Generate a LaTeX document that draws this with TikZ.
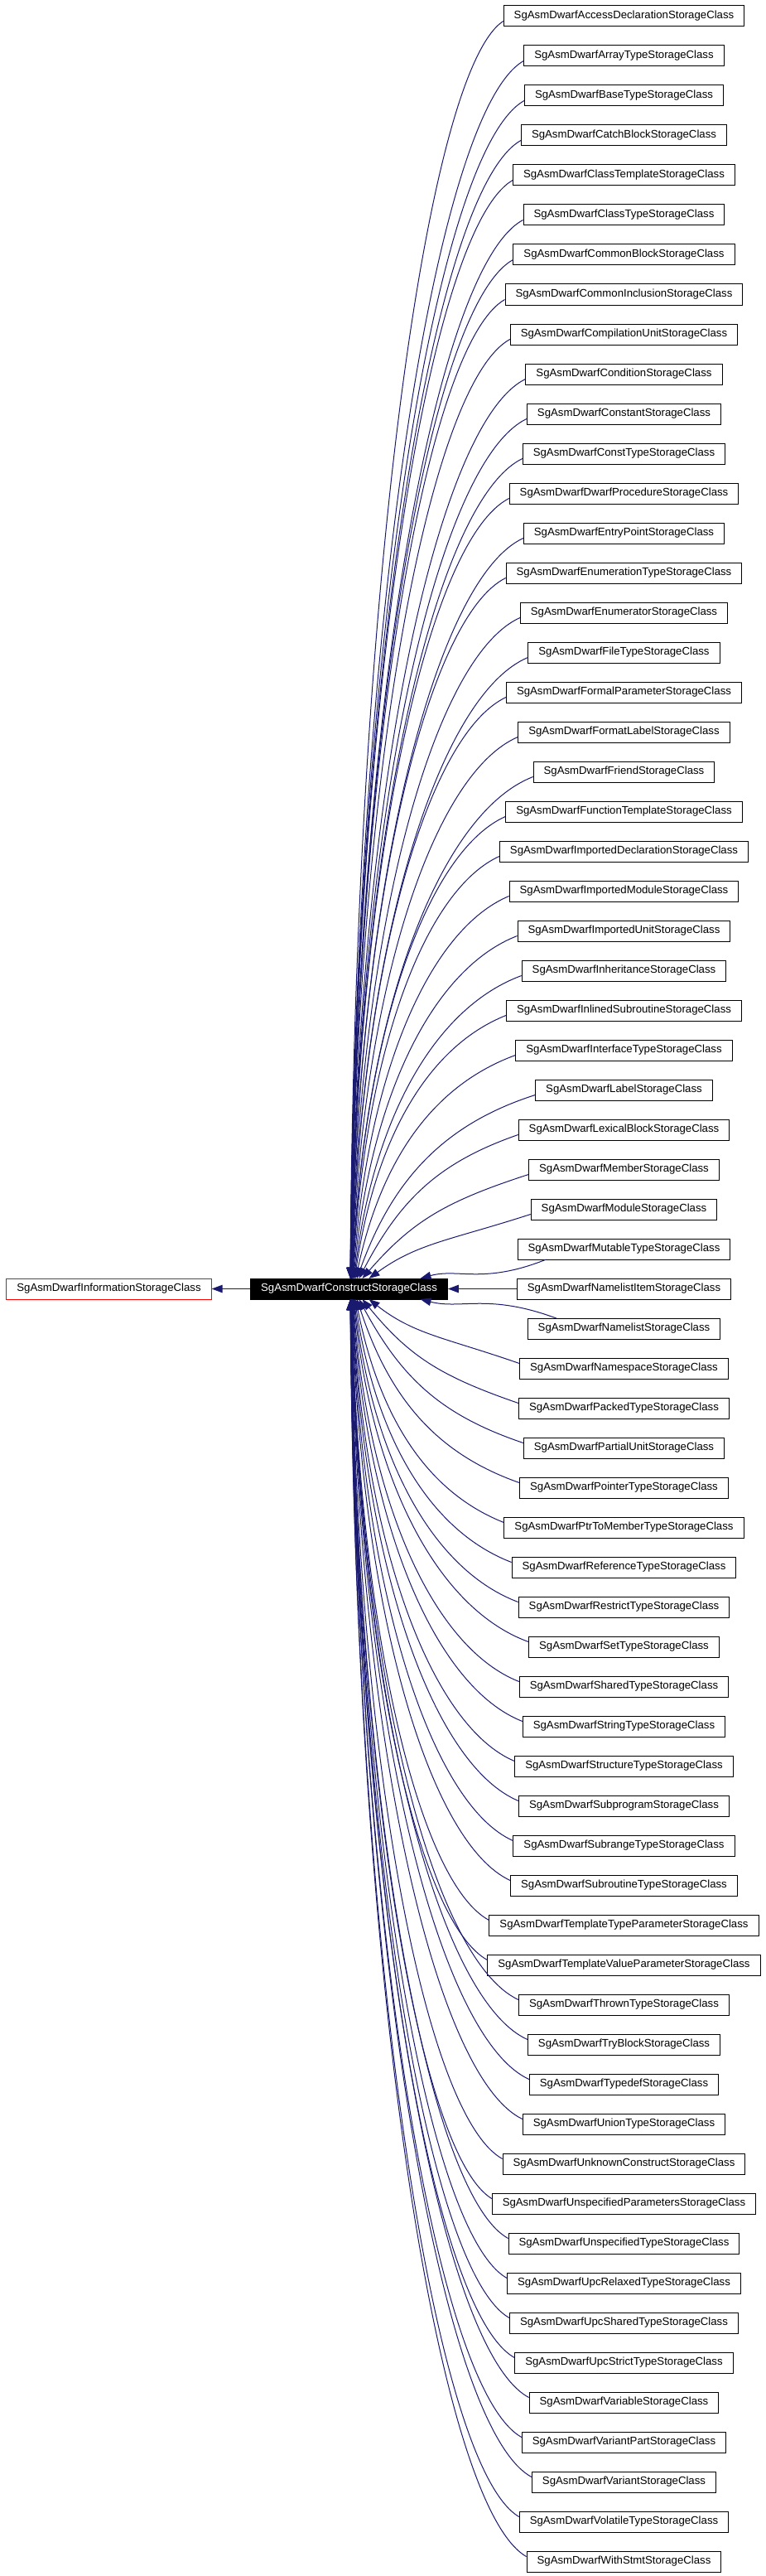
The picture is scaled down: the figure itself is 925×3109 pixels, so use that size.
\documentclass[tikz,border=0pt]{standalone}
\usepackage{fontspec}
\setmainfont{Liberation Sans}
\usepackage{xcolor}
\usepackage{tikz}
\usetikzlibrary{arrows.meta, calc}
\definecolor{edgeblue}{HTML}{191970}

\begin{document}
\begin{tikzpicture}[
  x=1pt, y=-1pt,
  cls/.style={rectangle, draw=black, fill=white, line width=1pt, minimum height=25pt,
              inner xsep=12.5pt, inner ysep=0pt, font=\fontsize{13.2}{15}\selectfont},
  basecls/.style={cls, draw=red},
  curcls/.style={cls, fill=black, text=white},
  arr/.style={-{Triangle[length=13pt, width=9.5pt]}, edgeblue, line width=1pt}
]
\useasboundingbox (0,0) rectangle (925,3109);
%% Base class and the class itself
\node[basecls] (info) at (131.5,1555.5) {SgAsmDwarfInformationStorageClass};
\node[curcls] (construct) at (421.5,1555.5) {SgAsmDwarfConstructStorageClass};
\draw[arr] (construct.west) -- (info.east);
%% Derived classes, one per row
\foreach \name [count=\i from 0] in {AccessDeclaration, ArrayType, BaseType, CatchBlock,
    ClassTemplate, ClassType, CommonBlock, CommonInclusion, CompilationUnit, Condition,
    Constant, ConstType, DwarfProcedure, EntryPoint, EnumerationType, Enumerator, FileType,
    FormalParameter, FormatLabel, Friend, FunctionTemplate, ImportedDeclaration,
    ImportedModule, ImportedUnit, Inheritance, InlinedSubroutine, InterfaceType, Label,
    LexicalBlock, Member, Module, MutableType, NamelistItem, Namelist, Namespace, PackedType,
    PartialUnit, PointerType, PtrToMemberType, ReferenceType, RestrictType, SetType,
    SharedType, StringType, StructureType, Subprogram, SubrangeType, SubroutineType,
    TemplateTypeParameter, TemplateValueParameter, ThrownType, TryBlock, Typedef, UnionType,
    UnknownConstruct, UnspecifiedParameters, UnspecifiedType, UpcRelaxedType, UpcSharedType,
    UpcStrictType, Variable, VariantPart, Variant, VolatileType, WithStmt}
  \node[cls] (sub\i) at (753.5,19.5+48*\i) {SgAsmDwarf\name StorageClass};
%% Inheritance edges
\foreach \i in {0,...,64} {
  \ifnum\i=32
    \draw[arr] (sub32.west) -- (construct.east);
  \else
    \pgfmathtruncatemacro{\side}{\i<32 ? 1 : -1}
    \pgfmathtruncatemacro{\dist}{abs(\i-32)}
    \ifnum\dist=1
      \pgfmathsetmacro{\sy}{12.5*\side}
      \pgfmathsetmacro{\ex}{86}
      \pgfmathsetmacro{\sx}{35}
    \else
      \pgfmathsetmacro{\sy}{6*\side}
      \pgfmathsetmacro{\ex}{48/\dist}
      \pgfmathsetmacro{\sx}{0}
    \fi
    \pgfmathsetmacro{\ey}{-12.5*\side}
    \draw[arr] let \p1=($(sub\i.west)+(\sx,\sy)$),
                   \p2=($(construct.center)+(\ex,\ey)$),
                   \n1={0.3*(\x1-\x2)*min(1,150/abs(\y1-\y2))},
                   \n2={(30+0.02*abs(\y1-\y2))*\side} in
      (\p1) .. controls ({\x1-0.5*(\x1-\x2)},{\y1-\n2})
                and ({\x2+\n1},{\y2+0.55*(\y1-\y2)}) .. (\p2);
  \fi
}
\end{tikzpicture}
\end{document}
